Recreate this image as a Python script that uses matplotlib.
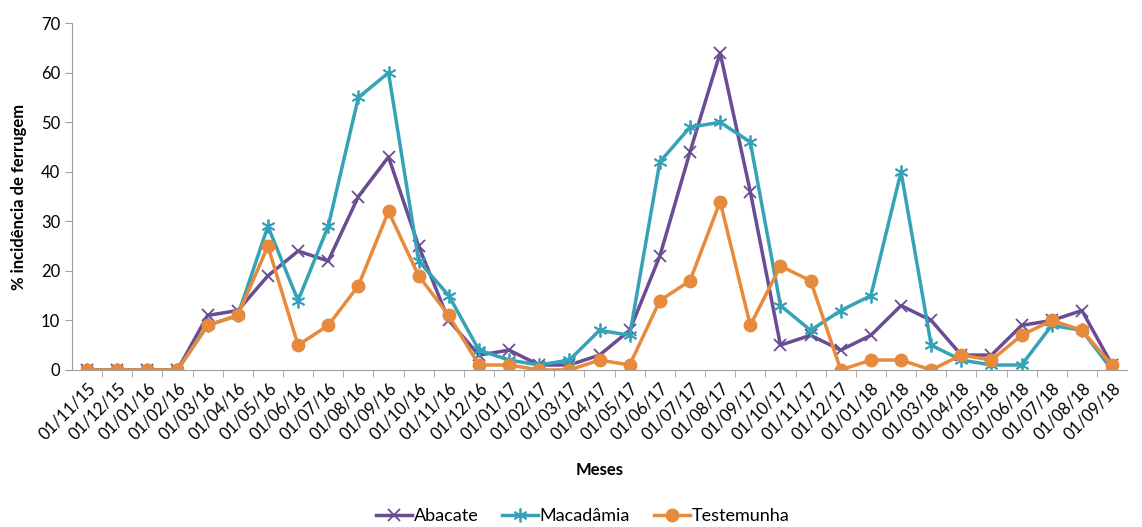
import matplotlib.pyplot as plt

plt.rcParams['font.family'] = ['Lato', 'DejaVu Sans']

meses = ["01/11/15", "01/12/15", "01/01/16", "01/02/16", "01/03/16", "01/04/16",
         "01/05/16", "01/06/16", "01/07/16", "01/08/16", "01/09/16", "01/10/16",
         "01/11/16", "01/12/16", "01/01/17", "01/02/17", "01/03/17", "01/04/17",
         "01/05/17", "01/06/17", "01/07/17", "01/08/17", "01/09/17", "01/10/17",
         "01/11/17", "01/12/17", "01/01/18", "01/02/18", "01/03/18", "01/04/18",
         "01/05/18", "01/06/18", "01/07/18", "01/08/18", "01/09/18"]

abacate = [0, 0, 0, 0, 11, 12, 19, 24, 22, 35, 43, 25, 10, 3, 4, 1, 1, 3,
           8, 23, 44, 64, 36, 5, 7, 4, 7, 13, 10, 3, 3, 9, 10, 12, 1]
macadamia = [0, 0, 0, 0, 9, 11, 29, 14, 29, 55, 60, 22, 15, 4, 2, 1, 2, 8,
             7, 42, 49, 50, 46, 13, 8, 12, 15, 40, 5, 2, 1, 1, 9, 8, 0]
testemunha = [0, 0, 0, 0, 9, 11, 25, 5, 9, 17, 32, 19, 11, 1, 1, 0, 0, 2,
              1, 14, 18, 34, 9, 21, 18, 0, 2, 2, 0, 3, 2, 7, 10, 8, 1]

x = list(range(len(meses)))

fig = plt.figure(figsize=(11.42, 5.27), dpi=100)
ax = fig.add_axes([0.063, 0.298, 0.924, 0.658])

ax.plot(x, abacate, color='#6a4c93', lw=2.5, marker='x', ms=9, mew=1.3, label='Abacate')
ax.plot(x, macadamia, color='#36a2b8', lw=2.5, marker=(6, 2, 0), ms=10, mew=1.3, label='Macadâmia')
ax.plot(x, testemunha, color='#e78a3b', lw=2.5, marker='o', ms=9, label='Testemunha')

ax.set_xlim(-0.5, len(meses) - 0.5)
ax.set_ylim(0, 70)
ax.set_yticks(range(0, 71, 10))
ax.set_xticks(x)
ax.set_xticklabels(meses, rotation=45, ha='right', rotation_mode='anchor', fontsize=12)
ax.set_xticks([i + 0.5 for i in x[:-1]], minor=True)
ax.tick_params(axis='x', which='major', length=0, pad=7)
ax.tick_params(axis='x', which='minor', length=5, color='#a0a0a0')
ax.tick_params(axis='y', length=5, color='#a0a0a0', labelsize=12)

for s in ['top', 'right']:
    ax.spines[s].set_visible(False)
for s in ['left', 'bottom']:
    ax.spines[s].set_color('#a0a0a0')

ax.set_ylabel('% incidência de ferrugem', fontsize=12, fontweight='bold', labelpad=10)
ax.set_xlabel('Meses', fontsize=12, fontweight='bold', labelpad=14)

fig.legend(loc='lower center', bbox_to_anchor=(0.51, -0.025), ncol=3, frameon=False,
           fontsize=13, handlelength=2.0, handletextpad=0.1, columnspacing=1.3)

fig.savefig('out.png', dpi=100)
